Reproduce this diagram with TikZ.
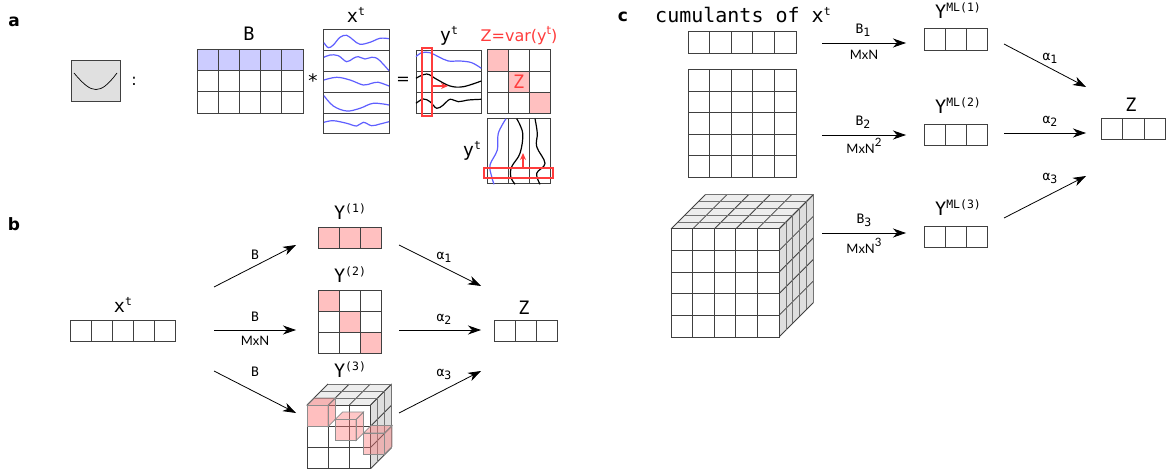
\documentclass[tikz,border=0pt]{standalone}
\usepackage{fontspec}
\setmainfont{DejaVu Sans}
\setmonofont{DejaVu Sans Mono}
\newfontfamily\dimfont{Lato}
\usetikzlibrary{arrows.meta}
\definecolor{rowblue}{HTML}{CCCCFF}
\definecolor{cellpink}{HTML}{FFC0C0}
\definecolor{waveblue}{HTML}{5F5FFF}
\definecolor{markred}{HTML}{FF3C3C}
\definecolor{edgegrey}{HTML}{404040}
% raised and lowered indices
\newcommand{\upidx}[1]{\raisebox{7pt}{\fontsize{11.5}{11.5}\selectfont #1}}
\newcommand{\dnidx}[1]{\raisebox{-3pt}{\fontsize{11.5}{11.5}\selectfont #1}}
% grid of cell nodes: name, left, top, columns, rows, cell width, cell height
\newcommand{\gridat}[7]{%
  \foreach \ci in {1,...,#4}{\foreach \ri in {1,...,#5}{
    \node[cell, minimum width=#6pt, minimum height=#7pt] (#1-\ci-\ri) at ({#2+(\ci-0.5)*#6},{#3+(\ri-0.5)*#7}) {};
  }}}
% top and right faces of a block: left, top, cells, cell size, layers, layer dx, layer dy
\newcommand{\blockat}[7]{%
  \fill[fill=black!7] (#1,#2) -- ++({#5*#6},{-#5*#7}) -- ++({#3*#4},0) -- ++({-#5*#6},{#5*#7}) -- cycle;
  \fill[fill=black!13] ({#1+#3*#4},#2) -- ++({#5*#6},{-#5*#7}) -- ++(0,{#3*#4}) -- ++({-#5*#6},{#5*#7}) -- cycle;
  \foreach \ci in {0,...,#3}{
    \draw[edge] ({#1+\ci*#4},#2) -- ++({#5*#6},{-#5*#7});
    \draw[edge] ({#1+#3*#4},{#2+\ci*#4}) -- ++({#5*#6},{-#5*#7});
  }
  \foreach \li in {1,...,#5}{
    \draw[edge, draw=black!55] ({#1+\li*#6},{#2-\li*#7}) -- ++({#3*#4},0) -- ++(0,{#3*#4});
  }}
% see-through cube marking one entry: left, top, opacity
\newcommand{\pinkcube}[3]{%
  \filldraw[cubeface, fill opacity=#3] (#1,#2) -- ++(7.5,-7.5) -- ++(21,0) -- ++(-7.5,7.5) -- cycle;
  \filldraw[cubeface, fill opacity=#3] (#1+21,#2) -- ++(7.5,-7.5) -- ++(0,21) -- ++(-7.5,7.5) -- cycle;
  \filldraw[cubeface, fill opacity=#3] (#1,#2) rectangle ++(21,21);}
\begin{document}
\begin{tikzpicture}[x=1pt, y=-1pt,
  cell/.style={draw=edgegrey, line width=1pt, inner sep=0pt, fill=white},
  edge/.style={draw=edgegrey, line width=0.8pt},
  cubeface/.style={draw=black!45, line width=0.7pt, fill=red!55!white},
  flow/.style={-{Stealth[length=13pt,width=9pt,inset=4pt]}, line width=0.8pt, draw=black},
  redmark/.style={draw=markred, line width=1.25pt},
  wave/.style={line width=1.2pt, smooth, tension=0.6},
  head/.style={font=\bfseries\fontsize{17}{17}\selectfont},
  lab/.style={font=\ttfamily\fontsize{18.5}{18.5}\selectfont, inner sep=0pt},
  arrowlab/.style={font=\ttfamily\fontsize{13}{13}\selectfont, inner sep=0pt},
  dimlab/.style={font=\dimfont\fontsize{13}{13}\selectfont, inner sep=0pt},
]
  \useasboundingbox (0,0) rectangle (1166,470);

  % panel a
  \node[head] (panelA) at (14,22) {a};
  \node[draw=edgegrey, fill=black!12, line width=1pt, minimum width=49pt, minimum height=41pt, inner sep=0pt] (lossbox) at (95.5,81) {};
  \draw[line width=0.7pt] (74,73) .. controls (84,85) and (90,89.5) .. (96,89.5) .. controls (102,89.5) and (108,85) .. (117,73);
  \node[lab, font=\rmfamily\fontsize{16}{16}\selectfont] (colon) at (134,81) {:};

  \gridat{matB}{197}{49.5}{5}{3}{21.2}{21.2}
  \foreach \ci in {1,...,5}{\node[cell, minimum width=21.2pt, minimum height=21.2pt, fill=rowblue] at (matB-\ci-1) {};}
  \node[lab] (lblB) at (249,34) {B};
  \node[lab] (star) at (313,81) {*};
  \gridat{matX}{323}{30}{1}{5}{66}{20.8}
  \node[lab] (lblX) at (356,15) {x\upidx{t}};
  \draw[wave, waveblue] plot coordinates {(324,42.7) (328.3,47.7) (333.3,45) (340,37.3) (346.7,35.3) (353.3,40) (360,44.3) (370,42.3) (380,38.3) (389,38.7)};
  \draw[wave, waveblue] plot coordinates {(324,57.3) (330,55) (338.3,55.7) (346.7,61.7) (353.3,58.3) (358.3,56.7) (365,59) (371.7,57.3) (378.3,59.3) (389,70.7)};
  \draw[wave, waveblue] plot coordinates {(324,80) (336.7,77.3) (350,80) (363.3,85) (371.7,83.3) (378.3,82.3) (389,86)};
  \draw[wave, waveblue] plot coordinates {(324,95.7) (333.3,106) (346.7,111) (360,108.3) (373.3,103.3) (389,105)};
  \draw[wave, waveblue] plot coordinates {(324,122.3) (333.3,120.7) (346.7,123.3) (356.7,126) (363.3,122.3) (371.7,125.7) (380,124) (389,121.7)};
  \node[lab, font=\rmfamily\fontsize{16}{16}\selectfont] (equals) at (403,81) {=};

  \gridat{matY}{416}{51}{1}{3}{65.5}{20.7}
  \node[lab] (lblY) at (449,36) {y\upidx{t}};
  \draw[wave, waveblue] plot coordinates {(416,56.7) (421.7,52.7) (430,52.7) (438.3,56.7) (448.3,61) (460,61) (471.7,62.7) (481.3,68.3)};
  \draw[wave, black] plot coordinates {(416,78.3) (426.7,74) (436.7,79.3) (450,86) (463.3,86.7) (481.3,81)};
  \draw[wave, black] plot coordinates {(416,103.3) (423.3,99) (430,101.7) (436.7,108.3) (443.3,105) (450,99.3) (458.3,101.7) (468.3,100) (481.3,99.3)};
  \node[redmark, minimum width=10pt, minimum height=68pt, inner sep=0pt] (scanRow) at (427,82) {};
  \coordinate (scanRowTip) at (448,86);
  \draw[redmark, -{Stealth[length=7pt,width=6pt]}] (scanRow.east |- scanRowTip) -- (scanRowTip);

  \gridat{matZ}{487}{50}{3}{3}{21.1}{21.1}
  \foreach \ci in {1,2,3}{\node[cell, minimum size=21.1pt, fill=cellpink] at (matZ-\ci-\ci) {};}
  \node[lab, text=markred] (lblZin) at (matZ-2-2) {Z};
  \node[lab, font=\rmfamily\fontsize{16}{16}\selectfont, text=markred] (lblVar) at (519,36) {Z=var(y\upidx{t})};

  \gridat{matV}{487}{118.5}{3}{1}{21.1}{65.5}
  \node[lab] (lblV) at (472,151) {y\upidx{t}};
  \draw[wave, waveblue] plot coordinates {(506,118.7) (498.3,133.3) (497.3,150) (490,165) (491.7,176.7) (494,184.3)};
  \draw[wave, black] plot coordinates {(516.7,118.7) (522.7,133.3) (520,153.3) (511.7,166.7) (510.7,176.7) (515,184.3)};
  \draw[wave, black] plot coordinates {(535,118.7) (537.3,133.3) (536.7,146.7) (545,163.3) (536.7,173.3) (540,184.3)};
  \node[redmark, minimum width=69pt, minimum height=10pt, inner sep=0pt] (scanCol) at (518.5,173) {};
  \coordinate (scanColTip) at (523,153);
  \draw[redmark, -{Stealth[length=7pt,width=6pt]}] (scanCol.north -| scanColTip) -- (scanColTip);

  % panel b
  \node[head] (panelB) at (14,224) {b};
  \gridat{inX}{70}{320}{5}{1}{21}{21}
  \node[lab] (lblInX) at (123,305) {x\upidx{t}};

  \gridat{outA}{318}{227.5}{3}{1}{21.1}{21.1}
  \foreach \ci in {1,2,3}{\node[cell, minimum size=21.1pt, fill=cellpink] at (outA-\ci-1) {};}
  \node[lab] (lblOutA) at (350,212) {Y\upidx{(1)}};

  \gridat{outB}{318}{290.5}{3}{3}{21.1}{21.1}
  \foreach \ci in {1,2,3}{\node[cell, minimum size=21.1pt, fill=cellpink] at (outB-\ci-\ci) {};}
  \node[lab] (lblOutB) at (350,275) {Y\upidx{(2)}};

  \blockat{307}{405}{3}{21.2}{3}{7}{7}
  \gridat{outC}{307}{405}{3}{3}{21.2}{21}
  \pinkcube{307}{405.5}{0.45}
  \pinkcube{335}{419.5}{0.4}
  \pinkcube{363.5}{433}{0.4}
  \node[lab] (lblOutC) at (350,370) {Y\upidx{(3)}};

  \gridat{outZ}{494}{320.5}{3}{1}{21}{21}
  \node[lab] (lblOutZ) at (524,308) {Z};

  \coordinate (bFromA) at (214,287);
  \coordinate (bFromB) at (214,330);
  \coordinate (bFromC) at (214,371);
  \coordinate (bToA) at (296,245);
  \coordinate (bToB) at (296,330);
  \coordinate (bToC) at (296,413);
  \coordinate (bSumA) at (399,245);
  \coordinate (bSumB) at (399,330);
  \coordinate (bSumC) at (399,413);
  \coordinate (bEndA) at (481,286);
  \coordinate (bEndB) at (481,330);
  \coordinate (bEndC) at (481,371);
  \draw[flow] (bFromA) -- (bToA);
  \draw[flow] (bFromB) -- (bToB);
  \draw[flow] (bFromC) -- (bToC);
  \draw[flow] (bSumA) -- (bEndA);
  \draw[flow] (bSumB) -- (bEndB);
  \draw[flow] (bSumC) -- (bEndC);
  \node[arrowlab] (bLabA) at (255,255) {B};
  \node[arrowlab] (bLabB) at (255,317) {B};
  \node[dimlab] (bDimB) at (255,341) {MxN};
  \node[arrowlab] (bLabC) at (255,372) {B};
  \node[arrowlab] (alphaA) at (444,257) {α\dnidx{1}};
  \node[arrowlab] (alphaB) at (444,319) {α\dnidx{2}};
  \node[arrowlab] (alphaC) at (444,374) {α\dnidx{3}};

  % panel c
  \node[head] (panelC) at (623,17) {c};
  \node[lab, font=\ttfamily\fontsize{20}{20}\selectfont, anchor=west] (lblCum) at (655,15) {cumulants of x\upidx{t}};
  \gridat{cumA}{688}{32}{5}{1}{21.6}{21.3}
  \gridat{cumB}{688}{70}{5}{5}{21.6}{21.5}
  \blockat{671}{229}{5}{21.6}{5}{6.9}{6.9}
  \gridat{cumC}{671}{229}{5}{5}{21.6}{21.6}

  \gridat{mlA}{924}{29}{3}{1}{21.3}{21.3}
  \gridat{mlB}{924}{124.5}{3}{1}{21.3}{21.3}
  \gridat{mlC}{924}{226.5}{3}{1}{21.3}{21.3}
  \node[lab] (lblMlA) at (958,11) {Y\upidx{ML(1)}};
  \node[lab] (lblMlB) at (958,106) {Y\upidx{ML(2)}};
  \node[lab] (lblMlC) at (958,208) {Y\upidx{ML(3)}};
  \gridat{sumZ}{1101}{118.5}{3}{1}{21.6}{21.3}
  \node[lab] (lblSumZ) at (1131,105) {Z};

  \coordinate (cFromA) at (822,43);
  \coordinate (cFromB) at (822,135);
  \coordinate (cFromC) at (822,233);
  \coordinate (cToA) at (906,43);
  \coordinate (cToB) at (906,135);
  \coordinate (cToC) at (906,233);
  \coordinate (cSumA) at (1004,44);
  \coordinate (cSumB) at (1004,133);
  \coordinate (cSumC) at (1004,218);
  \coordinate (cEndA) at (1086,87);
  \coordinate (cEndB) at (1086,133);
  \coordinate (cEndC) at (1086,176);
  \draw[flow] (cFromA) -- (cToA);
  \draw[flow] (cFromB) -- (cToB);
  \draw[flow] (cFromC) -- (cToC);
  \draw[flow] (cSumA) -- (cEndA);
  \draw[flow] (cSumB) -- (cEndB);
  \draw[flow] (cSumC) -- (cEndC);
  \node[arrowlab] (cLabA) at (863,30) {B\dnidx{1}};
  \node[dimlab] (cDimA) at (864,55) {MxN};
  \node[arrowlab] (cLabB) at (863,122) {B\dnidx{2}};
  \node[dimlab] (cDimB) at (864,146) {MxN\upidx{2}};
  \node[arrowlab] (cLabC) at (864,220) {B\dnidx{3}};
  \node[dimlab] (cDimC) at (864,246) {MxN\upidx{3}};
  \node[arrowlab] (alphaD) at (1050,58) {α\dnidx{1}};
  \node[arrowlab] (alphaE) at (1050,121) {α\dnidx{2}};
  \node[arrowlab] (alphaF) at (1050,178) {α\dnidx{3}};
\end{tikzpicture}
\end{document}
